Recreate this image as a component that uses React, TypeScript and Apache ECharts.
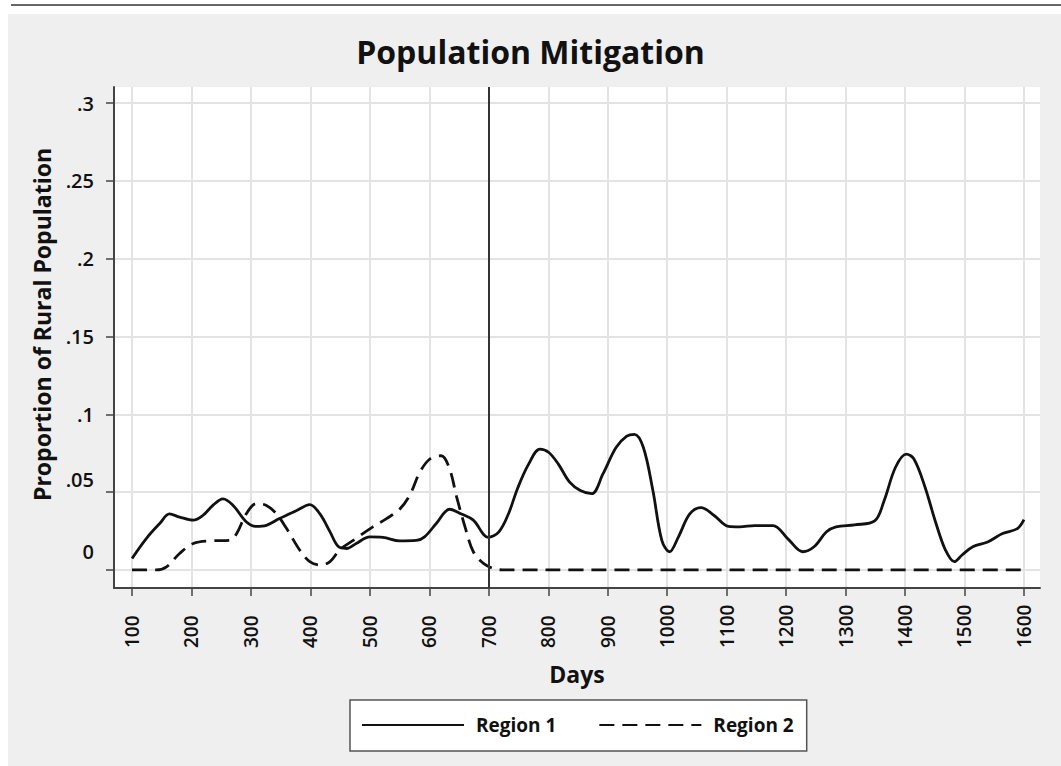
import React, { useEffect, useRef } from 'react';
import * as echarts from 'echarts';

const region1Days = [
  100, 124, 147, 163, 180, 203, 219, 236, 253, 270, 292, 309, 326, 348, 376, 399, 416, 433, 447, 461,
  477, 500, 522, 550, 578, 592, 612, 634, 654, 674, 699, 717, 733, 749, 767, 786, 801, 817, 836, 854,
  873, 892, 914, 932, 945, 960, 976, 991, 1004, 1019, 1038, 1057, 1079, 1103, 1122, 1147, 1178, 1203, 1228, 1247,
  1268, 1284, 1315, 1349, 1365, 1384, 1402, 1415, 1433, 1452, 1468, 1483, 1496, 1514, 1539, 1564, 1589, 1600,
];
const region1Values = [
  0.0074, 0.0202, 0.03, 0.036, 0.034, 0.032, 0.035, 0.0415, 0.0457, 0.0415, 0.031, 0.028, 0.0287, 0.033, 0.038, 0.042, 0.036, 0.0245, 0.015, 0.0138,
  0.017, 0.0213, 0.021, 0.0187, 0.019, 0.0213, 0.03, 0.039, 0.036, 0.032, 0.021, 0.0245, 0.036, 0.053, 0.068, 0.0777, 0.0755, 0.068, 0.0564, 0.051,
  0.049, 0.0617, 0.0787, 0.086, 0.0872, 0.0787, 0.051, 0.019, 0.0117, 0.0213, 0.036, 0.04, 0.035, 0.028, 0.0277, 0.0285, 0.0285, 0.02, 0.0117, 0.0149,
  0.0245, 0.0277, 0.029, 0.0315, 0.0447, 0.066, 0.0745, 0.0713, 0.054, 0.03, 0.0128, 0.0053, 0.0096, 0.0149, 0.018, 0.0234, 0.0266, 0.0323,
];
const region2Days = [
  100, 141, 158, 180, 203, 231, 264, 276, 292, 309, 326, 343, 360, 382, 399, 416, 433, 449, 472, 505,
  528, 550, 567, 584, 601, 620, 634, 646, 660, 674, 691, 713, 730, 1600,
];
const region2Values = [
  0, 0, 0.002, 0.0106, 0.017, 0.0187, 0.019, 0.0234, 0.036, 0.0426, 0.0415, 0.036, 0.0266, 0.0128, 0.0053, 0.0032, 0.0053, 0.0128, 0.019, 0.0277,
  0.033, 0.039, 0.048, 0.0628, 0.0713, 0.0734, 0.065, 0.0468, 0.0277, 0.0117, 0.0043, 0.0004, 0, 0,
];
const xTicks = [100, 200, 300, 400, 500, 600, 700, 800, 900, 1000, 1100, 1200, 1300, 1400, 1500, 1600];
const yTicks = [0, 0.05, 0.1, 0.15, 0.2, 0.25, 0.3];
const yTickLabels = ['0', '.05', '.1', '.15', '.2', '.25', '.3'];
const interventionDay = 700;

const FONT = '"Open Sans", "Noto Sans", sans-serif';
const INK = '#111';
const AXIS = '#444';

function zip(xs: number[], ys: number[]) {
  return xs.map((x, i) => [x, ys[i]]);
}

export default function App() {
  const ref = useRef<HTMLDivElement>(null);
  useEffect(() => {
    const chart = echarts.init(ref.current!, null, { renderer: 'svg' });
    const option: any = {
      animation: false,
      backgroundColor: '#fff',
      graphic: [
        { type: 'rect', z: -100, silent: true, shape: { x: 8, y: 14, width: 1053, height: 752 }, style: { fill: '#efefef' } },
        { type: 'line', z: -100, silent: true, shape: { x1: 11, y1: 5, x2: 1061, y2: 5 }, style: { stroke: '#333', lineWidth: 1.5 } },
      ],
      title: {
        text: 'Population Mitigation',
        left: 'center',
        top: 35,
        padding: [0, 0, 0, 22],
        textStyle: { fontFamily: FONT, fontSize: 32, fontWeight: 'bold', color: INK },
      },
      grid: { left: 114, top: 87, width: 926, height: 501, show: true, backgroundColor: '#fff', borderWidth: 0 },
      legend: {
        left: 350,
        top: 700,
        itemWidth: 102,
        itemHeight: 14,
        itemGap: 42,
        padding: [14, 13, 15, 11],
        backgroundColor: '#fff',
        borderColor: '#555',
        borderWidth: 1.5,
        itemStyle: { opacity: 0 },
        textStyle: { fontFamily: FONT, fontSize: 19, fontWeight: 'bold', color: INK, padding: [0, 0, 0, 7], lineHeight: 22 },
        data: ['Region 1', 'Region 2'],
      },
      xAxis: {
        type: 'value',
        min: 69.7,
        max: 1627,
        axisLine: { show: true, onZero: false, lineStyle: { color: AXIS, width: 2 } },
        axisTick: { show: true, length: 8, customValues: xTicks, lineStyle: { color: AXIS, width: 1.5 } },
        axisLabel: {
          customValues: xTicks,
          rotate: 90,
          align: 'left',
          margin: 60,
          fontFamily: FONT,
          fontSize: 19,
          fontWeight: 600,
          color: INK,
          formatter: (v: number) => String(v),
        },
        splitLine: { show: true, lineStyle: { color: '#e3e3e3', width: 2 } },
        name: 'Days',
        nameLocation: 'middle',
        nameGap: 74,
        nameTextStyle: { fontFamily: FONT, fontSize: 23, fontWeight: 'bold', color: INK },
      },
      yAxis: {
        type: 'value',
        min: -0.0116,
        max: 0.3104,
        axisLine: { show: true, onZero: false, lineStyle: { color: AXIS, width: 2 } },
        axisTick: { show: true, length: 8, customValues: yTicks, lineStyle: { color: AXIS, width: 1.5 } },
        axisLabel: {
          customValues: yTicks,
          margin: 20,
          fontFamily: FONT,
          fontSize: 20,
          fontWeight: 600,
          color: INK,
          formatter: (v: number) => {
            const i = yTicks.findIndex((t) => Math.abs(t - v) < 1e-9);
            const s = i >= 0 ? yTickLabels[i] : String(v);
            if (i === 0) return '{up2|' + s + '}';
            if (i === 1) return '{up1|' + s + '}';
            return s;
          },
          rich: {
            up1: { fontFamily: FONT, fontSize: 20, fontWeight: 600, color: INK, padding: [0, 0, 26, 0] },
            up2: { fontFamily: FONT, fontSize: 20, fontWeight: 600, color: INK, padding: [0, 0, 36, 0] },
          },
        },
        splitLine: { show: true, lineStyle: { color: '#e3e3e3', width: 2 } },
        name: 'Proportion of Rural Population',
        nameLocation: 'middle',
        nameRotate: 90,
        nameGap: 61,
        nameTextStyle: { fontFamily: FONT, fontSize: 23, fontWeight: 'bold', color: INK, padding: [0, 0, 0, 26] },
      },
      series: [
        {
          name: 'Region 1',
          type: 'line',
          data: zip(region1Days, region1Values),
          smooth: 0.35,
          symbol: 'none',
          itemStyle: { color: INK },
          lineStyle: { color: INK, width: 2.8 },
          markLine: {
            silent: true,
            symbol: 'none',
            label: { show: false },
            lineStyle: { color: '#333', type: 'solid', width: 2 },
            data: [{ xAxis: interventionDay }],
          },
        },
        {
          name: 'Region 2',
          type: 'line',
          data: zip(region2Days, region2Values),
          smooth: 0.35,
          symbol: 'none',
          itemStyle: { color: INK },
          lineStyle: { color: INK, width: 2.8, type: [15, 8] },
        },
      ],
    };
    chart.setOption(option);
    return () => chart.dispose();
  }, []);
  return <div ref={ref} style={{ position: 'absolute', left: 0, top: 0, width: 1061, height: 766 }} />;
}
